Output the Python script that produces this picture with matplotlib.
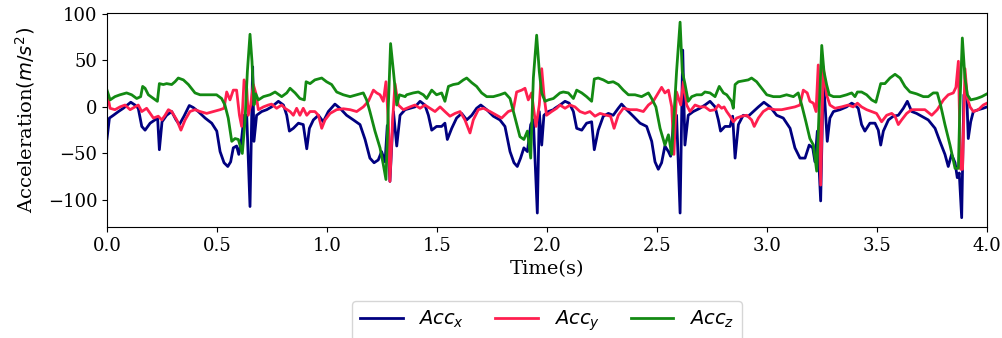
import numpy as np
import matplotlib
matplotlib.use("Agg")
import matplotlib.pyplot as plt

# values (time in s, acceleration in m/s^2)
t_x = [0.0, 0.011, 0.029, 0.052, 0.074, 0.108, 0.127, 0.142, 0.158, 0.173, 0.196, 0.218,
       0.230, 0.238, 0.250, 0.271, 0.294, 0.314, 0.329, 0.350, 0.374, 0.392, 0.415, 0.446,
       0.476, 0.499, 0.514, 0.532, 0.549, 0.562, 0.574, 0.589, 0.599, 0.612, 0.623, 0.635,
       0.650, 0.662, 0.668, 0.680, 0.703, 0.726, 0.748, 0.779, 0.802, 0.817, 0.829, 0.847,
       0.870, 0.892, 0.908, 0.920, 0.938, 0.961, 0.983, 1.006, 1.036, 1.059, 1.089, 1.120,
       1.150, 1.173, 1.195, 1.214, 1.233, 1.248, 1.264, 1.274, 1.286, 1.302, 1.317, 1.332,
       1.355, 1.377, 1.400, 1.423, 1.445, 1.461, 1.476, 1.498, 1.521, 1.536, 1.547, 1.567,
       1.589, 1.612, 1.635, 1.658, 1.680, 1.699, 1.726, 1.756, 1.786, 1.809, 1.832, 1.850,
       1.865, 1.880, 1.895, 1.911, 1.926, 1.938, 1.956, 1.965, 1.976, 1.986, 2.006, 2.029,
       2.036, 2.059, 2.082, 2.101, 2.120, 2.135, 2.158, 2.180, 2.203, 2.215, 2.233, 2.256,
       2.279, 2.301, 2.324, 2.339, 2.362, 2.392, 2.423, 2.453, 2.476, 2.491, 2.506, 2.521,
       2.536, 2.552, 2.562, 2.574, 2.589, 2.605, 2.617, 2.627, 2.642, 2.665, 2.695, 2.718,
       2.741, 2.764, 2.779, 2.789, 2.809, 2.832, 2.844, 2.855, 2.870, 2.892, 2.915, 2.938,
       2.961, 2.986, 3.014, 3.044, 3.074, 3.105, 3.127, 3.150, 3.173, 3.192, 3.208, 3.218,
       3.229, 3.244, 3.256, 3.264, 3.274, 3.286, 3.302, 3.332, 3.362, 3.385, 3.400, 3.415,
       3.430, 3.445, 3.468, 3.491, 3.506, 3.517, 3.529, 3.552, 3.574, 3.597, 3.620, 3.638,
       3.658, 3.680, 3.703, 3.733, 3.764, 3.786, 3.809, 3.824, 3.839, 3.855, 3.865, 3.874,
       3.885, 3.895, 3.908, 3.915, 3.926, 3.938, 3.961, 3.983, 4.0]
acc_x = [-34, -12, -9, -5, -1.5, 5, 2, -1.5, -21, -25, -17.5, -14,
         -12, -46, -16, -9, -5, -14, -19, -10, 1.5, -0.7, -5, -12,
         -17.5, -26, -48, -60, -64, -59, -44, -42, -51, -34, -9, -9,
         -107, 43, -37, -9, -5, -3, 0, 6, 2, -9, -26, -23,
         -17.5, -19, -45, -23, -14, -9, -16, -5, 3, -1.5, -9, -14,
         -19, -35, -55, -60, -57, -48, -59, -20, -80, -5, -42, -9,
         -3, -1.5, 0, 6, 2, -9, -25, -21, -21, -17.5, -35, -23,
         -12, -7, -14, -9, -1.5, 2, -3, -10, -14, -21, -48, -60,
         -64, -55, -44, -48, -19, -14, -114, -5, -41, -9, -5, -3,
         -1.5, 2, 6, 4, -5, -23, -25, -17.5, -16, -46, -25, -10,
         -7, -9, -1.5, 3, -3, -10, -17.5, -21, -37, -59, -67, -60,
         -42, -48, -53, -19, -9, -114, 61, -41, -9, -5, -1.5, 2,
         6, 0, -14, -26, -21, -21, -10, -55, -19, -9, -10, -5,
         0, 5, 0, -9, -12, -23, -44, -55, -55, -41, -44, -59,
         -26, -101, 31, 2, -37, -12, -5, -3, 0, 4, 2, -1.5,
         -19, -26, -17.5, -17.5, -25, -41, -26, -14, -10, -9, -1.5, 6,
         -5, -7, -10, -14, -23, -37, -51, -64, -51, -60, -76, -71,
         -119, 13, 13, -34, -16, -5, -3, -1.5, 0]

t_y = [0.0, 0.014, 0.036, 0.059, 0.082, 0.105, 0.127, 0.142, 0.158, 0.180, 0.196, 0.211,
       0.233, 0.249, 0.264, 0.279, 0.294, 0.317, 0.336, 0.355, 0.377, 0.400, 0.423, 0.453,
       0.483, 0.514, 0.532, 0.544, 0.559, 0.574, 0.589, 0.602, 0.612, 0.623, 0.635, 0.642,
       0.653, 0.665, 0.676, 0.688, 0.711, 0.733, 0.748, 0.771, 0.794, 0.809, 0.832, 0.847,
       0.862, 0.877, 0.892, 0.908, 0.923, 0.945, 0.961, 0.976, 0.991, 1.014, 1.044, 1.074,
       1.105, 1.135, 1.165, 1.188, 1.211, 1.226, 1.241, 1.256, 1.268, 1.279, 1.286, 1.298,
       1.309, 1.324, 1.347, 1.377, 1.400, 1.423, 1.445, 1.468, 1.491, 1.514, 1.536, 1.559,
       1.582, 1.605, 1.627, 1.650, 1.665, 1.688, 1.711, 1.741, 1.771, 1.794, 1.824, 1.847,
       1.862, 1.885, 1.900, 1.915, 1.930, 1.950, 1.965, 1.976, 1.986, 1.998, 2.021, 2.044,
       2.059, 2.082, 2.105, 2.127, 2.150, 2.173, 2.195, 2.218, 2.241, 2.271, 2.289, 2.305,
       2.324, 2.347, 2.377, 2.408, 2.438, 2.461, 2.483, 2.506, 2.521, 2.536, 2.552, 2.567,
       2.577, 2.589, 2.608, 2.620, 2.635, 2.650, 2.673, 2.695, 2.718, 2.741, 2.764, 2.779,
       2.794, 2.805, 2.817, 2.832, 2.847, 2.862, 2.885, 2.908, 2.930, 2.942, 2.961, 2.983,
       3.006, 3.036, 3.067, 3.097, 3.127, 3.150, 3.165, 3.183, 3.195, 3.211, 3.223, 3.233,
       3.244, 3.256, 3.271, 3.286, 3.309, 3.339, 3.370, 3.392, 3.411, 3.430, 3.453, 3.476,
       3.498, 3.521, 3.544, 3.567, 3.582, 3.597, 3.612, 3.635, 3.658, 3.688, 3.718, 3.749,
       3.774, 3.802, 3.824, 3.847, 3.859, 3.870, 3.880, 3.889, 3.900, 3.911, 3.923, 3.938,
       3.961, 3.983, 4.0]
acc_y = [15, -1.5, -3, 0, 2, -3, 0, 2, -5, -1.5, -7, -12,
         -10, -14, -9, -3, -5, -14, -25, -14, -5, -3, -5, -7,
         -5, -3, -1.5, 16, 7.5, 18, 18, -9, -21, 29, 20, -9,
         2, 24, 15, -3, 0, 2, 3, -1.5, 2, -1.5, -5, -9,
         -1.5, -9, -1.5, -9, -5, -5, -9, -23, -14, -7, -3, -2,
         -3, -5, 0, 6, 18, 15, 13, 6, 27, -16, -80, -16,
         25, 2, -3, 0, 2, -1.5, 2, -1.5, -5, 0, -5, -10,
         -7, -5, -14, -28, -14, -3, -1.5, -5, -9, -12, -5, -3,
         16, 18, 20, 7.5, 15, -21, 2, 41, 13, -9, -5, -1.5,
         2, -1.5, 2, 0, -5, -7, -5, -10, -7, -9, -10, -23,
         -9, -1.5, -3, -3, -5, 2, 6, 15, 21, 15, 18, 0,
         -51, 16, 2, 27, 2, -5, 2, 0, 0, -4, -3, 2,
         -1.5, 0, -5, -10, -16, -12, -10, -9, -14, -21, -12, -5,
         -1.5, -3, -3, -1.5, 0, 2, 18, 15, 6, 4, -5, 45,
         -84, 43, 13, 2, -1.5, 0, 2, 0, 4, 0, -3, -5,
         -7, -16, -9, -7, -10, -19, -14, -7, -3, -3, -3, -9,
         -3, 7.5, 13, 15, 21, 49, -67, -67, 41, 9, 0, -5,
         -3, 2, 4]

t_z = [0.0, 0.014, 0.036, 0.059, 0.089, 0.112, 0.135, 0.153, 0.162, 0.173, 0.188, 0.211,
       0.229, 0.238, 0.256, 0.271, 0.294, 0.309, 0.324, 0.347, 0.370, 0.400, 0.423, 0.468,
       0.498, 0.521, 0.536, 0.551, 0.567, 0.582, 0.597, 0.615, 0.627, 0.638, 0.650, 0.659,
       0.668, 0.676, 0.688, 0.711, 0.741, 0.764, 0.794, 0.817, 0.832, 0.855, 0.877, 0.897,
       0.905, 0.923, 0.945, 0.976, 0.998, 1.021, 1.044, 1.074, 1.105, 1.135, 1.165, 1.180,
       1.195, 1.218, 1.241, 1.256, 1.268, 1.279, 1.289, 1.302, 1.317, 1.329, 1.355, 1.362,
       1.392, 1.415, 1.438, 1.453, 1.476, 1.498, 1.521, 1.536, 1.552, 1.574, 1.597, 1.620,
       1.635, 1.658, 1.680, 1.703, 1.726, 1.756, 1.786, 1.809, 1.832, 1.855, 1.877, 1.895,
       1.911, 1.926, 1.938, 1.953, 1.965, 1.976, 1.991, 2.006, 2.029, 2.059, 2.074, 2.097,
       2.120, 2.135, 2.158, 2.180, 2.203, 2.215, 2.233, 2.256, 2.279, 2.301, 2.324, 2.347,
       2.370, 2.400, 2.430, 2.461, 2.476, 2.495, 2.514, 2.536, 2.552, 2.567, 2.589, 2.605,
       2.615, 2.627, 2.642, 2.658, 2.680, 2.703, 2.718, 2.741, 2.764, 2.783, 2.802, 2.817,
       2.839, 2.847, 2.855, 2.870, 2.892, 2.915, 2.930, 2.953, 2.976, 2.999, 3.029, 3.059,
       3.089, 3.120, 3.142, 3.158, 3.177, 3.195, 3.211, 3.226, 3.238, 3.249, 3.259, 3.271,
       3.283, 3.302, 3.332, 3.362, 3.385, 3.400, 3.411, 3.430, 3.453, 3.476, 3.495, 3.517,
       3.536, 3.559, 3.582, 3.605, 3.627, 3.650, 3.680, 3.711, 3.733, 3.756, 3.774, 3.789,
       3.809, 3.832, 3.855, 3.870, 3.877, 3.888, 3.900, 3.911, 3.926, 3.953, 3.976, 4.0]
acc_z = [18, 7.5, 11, 13, 15, 13, 9, 11, 22, 20, 13, 9,
         6, 25, 24, 25, 24, 27, 31, 29, 24, 15, 13, 13,
         13, 9, 2, -12, -37, -34, -35, -50, -16, 38, 78, 49,
         2, 14, 7.5, 11, 13, 16, 11, 15, 20, 15, 9, 7.5,
         27, 25, 29, 31, 27, 24, 16, 13, 11, 13, 15, 7.5,
         -5, -26, -44, -62, -78, 2, 68, 38, 2, 13, 11, 13,
         15, 16, 13, 9, 18, 13, 15, 6, 22, 24, 25, 29,
         31, 26, 22, 15, 11, 11, 13, 15, 9, -12, -32, -35,
         -26, -55, 31, 77, 38, 15, 6, 7.5, 9, 15, 16, 15,
         9, 18, 15, 11, 6, 30, 31, 29, 26, 27, 24, 18,
         13, 13, 11, 15, 9, 0, -23, -41, -30, -51, 38, 91,
         38, 25, 6, 11, 13, 13, 16, 15, 11, 22, 15, 13,
         6, -1.5, 24, 27, 28, 29, 31, 27, 20, 13, 11, 11,
         13, 11, 15, 2, -16, -34, -41, -69, 2, 66, 38, 24,
         13, 11, 11, 13, 15, 11, 16, 16, 13, 7.5, 5, 25,
         25, 31, 35, 31, 22, 16, 14, 11, 11, 15, 15, 2,
         -19, -41, -66, -66, 2, 74, 31, 13, 7.5, 9, 11, 14]

plt.rcParams['font.family'] = 'DejaVu Serif'
plt.rcParams['mathtext.fontset'] = 'dejavusans'

fig = plt.figure(figsize=(10.02, 3.38), dpi=100)
ax = fig.add_axes([0.1068, 0.3284, 0.8782, 0.6336])

ax.plot(t_x, acc_x, color='#000080', lw=2, label='$Acc_x$')
ax.plot(t_y, acc_y, color='#ff1f4f', lw=2, label='$Acc_y$')
ax.plot(t_z, acc_z, color='#138a13', lw=2, label='$Acc_z$')

ax.set_xlim(0, 4)
ax.set_ylim(-129, 101)
ax.set_yticks([-100, -50, 0, 50, 100])
ax.tick_params(labelsize=13)
ax.set_xlabel('Time(s)', fontsize=14)
ax.set_ylabel('Acceleration$(m/s^2)$', fontsize=14, labelpad=8)

ax.legend(loc='upper center', bbox_to_anchor=(0.5, -0.30), ncol=3, fontsize=14,
          handlelength=2.2, columnspacing=1.6)

fig.savefig('out.png', dpi=100)
